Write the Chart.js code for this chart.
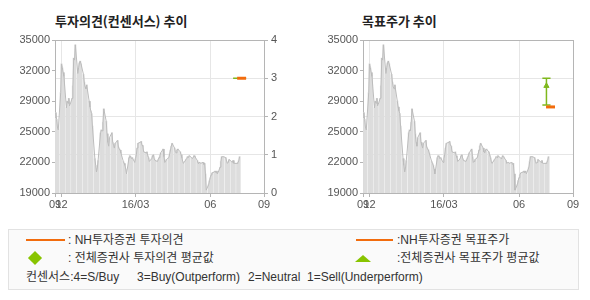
<!DOCTYPE html>
<html><head><meta charset="utf-8">
<script src="https://cdn.jsdelivr.net/npm/chart.js@4/dist/chart.umd.min.js"></script>
<style>
html,body{margin:0;padding:0;background:#fff;}
body{width:590px;height:300px;position:relative;overflow:hidden;font-family:"Liberation Sans","Noto Sans CJK KR",sans-serif;color:#333;}
.title{position:absolute;top:12px;font-family:"Noto Sans CJK KR";font-weight:bold;font-size:13px;line-height:18px;color:#222;white-space:nowrap;}
.cv{position:absolute;top:0;}
.box{position:absolute;left:8px;top:229px;width:569px;height:59px;border:1px solid #e2e2e2;background:#fafafa;}
.t{position:absolute;font-size:12px;line-height:16px;white-space:nowrap;color:#333;}
.oline{position:absolute;height:2px;background:#f26c0d;}
.dia{position:absolute;width:10px;height:10px;background:#88c400;transform:rotate(45deg);}
.tri{position:absolute;width:0;height:0;border-left:8px solid transparent;border-right:8px solid transparent;border-bottom:7px solid #88c400;}
</style></head>
<body>
<div class="title" style="left:55px;">투자의견(컨센서스) 추이</div>
<div class="title" style="left:362px;">목표주가 추이</div>
<canvas id="c1" class="cv" style="left:0px" width="295" height="215"></canvas>
<canvas id="c2" class="cv" style="left:295px" width="295" height="215"></canvas>
<div class="box"></div>
<div class="oline" style="left:26px;top:239px;width:39px;"></div>
<div class="t" style="left:68px;top:232px;">:&nbsp;NH투자증권 투자의견</div>
<div class="dia" style="left:30px;top:253px;"></div>
<div class="t" style="left:68px;top:250px;">:&nbsp;전체증권사 투자의견 평균값</div>
<div class="t" style="left:26px;top:269px;">컨센서스:4=S/Buy</div>
<div class="t" style="left:137px;top:269px;">3=Buy(Outperform)</div>
<div class="t" style="left:248px;top:269px;">2=Neutral</div>
<div class="t" style="left:307px;top:269px;">1=Sell(Underperform)</div>
<div class="oline" style="left:356px;top:239px;width:37px;"></div>
<div class="t" style="left:397px;top:232px;">:NH투자증권 목표주가</div>
<div class="tri" style="left:355px;top:255px;"></div>
<div class="t" style="left:397px;top:250px;">:전체증권사 목표주가 평균값</div>
<script>
// ---- data ----
// daily closing prices (trading days Mon-Fri starting from 2015-11-23)
const priceValues = [
 26900,27400,26700,25900,25600,
 29500,32500,32100,31600,31200,
 27900,28600,28400,28900,28100,
 28900,30200,33100,32900,34500,
 31500,32100,32600,32800,32500,
 31400,30600,30100,29900,30300,
 28600,28000,27600,27300,26000,
 22600,21900,21200,21600,22400,
 25300,25600,25500,26400,27800,
 26500,25200,24300,23900,24800,
 25300,24300,24000,23700,24200,
 24500,23800,23600,23500,23200,
 22300,22100,21900,21500,21000,
 22700,22900,22800,22600,22700,
 22200,22600,23000,23700,24200,
 24300,24400,24000,23900,23300,
 23200,23300,22900,22700,22300,
 22600,22900,23000,22600,22400,
 22300,22500,22700,22900,23200,
 23600,22800,22200,22300,22500,
 22700,23100,23500,23900,24200,
 23700,23300,23200,23500,23600,
 23300,23000,22700,22300,22100,
 22500,22600,22800,22700,22900,
 22700,22600,22700,22900,22800,
 22400,22100,22200,22200,22100,
 22200,22000,22100,21000,19300,
 19900,20300,20600,20900,21100,
 21200,21300,21100,21300,21000,
 21700,22300,22800,22800,22800,
 22700,22300,22100,22200,22500,
 22300,22200,22400,22100,22100,
 22100,22200,22400,22800
];
// day offsets (calendar days from 2015-11-23) for the trading days
const priceDays = priceValues.map((_, i) => Math.floor(i / 5) * 7 + (i % 5));

const xMinDay = 0, xMaxDay = 257;
const xTickDays = [0, 8, 99, 191, 257];
const xTickLabels = ['09', '12', '16/03', '06', '09'];
const yPriceTicks = [19000, 22200, 25400, 28600, 31800, 35000];
const yPriceLabels = ['19000', '22000', '25000', '29000', '32000', '35000'];
const yOpinionTicks = [0, 1, 2, 3, 4];
const yOpinionLabels = ['0', '1', '2', '3', '4'];

const opinionNHDays = [224, 235];
const opinionNHValues = [3, 3];
const opinionAvgDays = [219, 235];
const opinionAvgValues = [3, 3];

const targetNHDays = [224, 235];
const targetNHValues = [28000, 28000];
const targetAvgDay = [224.5];
const targetAvgValue = [30200];
const targetHighValue = [31000];
const targetLowValue = [28200];
const targetCapDays = [219.5, 229.5];

// ---- styles ----
const ORANGE = '#f26c0d', GREEN = '#7fb81c';
const AXIS = '#b5b5b5', GRID = '#e6e6e6', TXT = '#555';
const tickFont = {family: 'Liberation Sans', size: 11};

const pts = (xs, ys) => xs.map((x, i) => ({x: x, y: ys[i]}));

function baseDatasets() {
  return [
    {type: 'bar', data: pts(priceDays, priceValues), backgroundColor: '#dddddd', borderWidth: 0,
     barThickness: 1.4, yAxisID: 'y', order: 5},
    {type: 'line', data: pts(priceDays, priceValues), borderColor: '#bcbcbc', borderWidth: 1,
     pointRadius: 0, tension: 0, yAxisID: 'y', order: 4}
  ];
}

function scales(yWidth, y2Width, showY2Labels) {
  return {
    x: {type: 'linear', min: xMinDay, max: xMaxDay, offset: false,
      afterBuildTicks: s => { s.ticks = xTickDays.map(v => ({value: v})); },
      afterFit: s => { s.height = 22; },
      ticks: {autoSkip: false, maxRotation: 0, font: tickFont, color: TXT, padding: 1,
        callback: (v, i) => xTickLabels[i]},
      grid: {color: GRID, tickColor: AXIS, tickLength: 4, offset: false},
      border: {color: AXIS}},
    y: {type: 'linear', position: 'left', min: 19000, max: 35000,
      afterBuildTicks: s => { s.ticks = yPriceTicks.map(v => ({value: v})); },
      afterFit: s => { s.width = yWidth; },
      ticks: {font: tickFont, color: TXT, padding: 2,
        callback: (v, i) => yPriceLabels[i]},
      grid: {drawOnChartArea: false, tickColor: AXIS, tickLength: 3},
      border: {color: AXIS}},
    y2: {type: 'linear', position: 'right', min: 0, max: 4,
      afterBuildTicks: s => { s.ticks = yOpinionTicks.map(v => ({value: v})); },
      afterFit: s => { s.width = y2Width; },
      ticks: {display: showY2Labels, font: tickFont, color: TXT, padding: 3,
        callback: (v, i) => yOpinionLabels[i]},
      grid: {color: c => (c.tick && c.tick.value === 4) ? AXIS : GRID,
        tickColor: AXIS, tickLength: showY2Labels ? 4 : 0},
      border: {color: AXIS}}
  };
}

const commonOpts = {
  responsive: false, animation: false,
  layout: {padding: {top: 40, left: 0, right: 0, bottom: 0}},
  plugins: {legend: {display: false}, tooltip: {enabled: false}},
};

new Chart(document.getElementById('c1'), {
  data: {datasets: baseDatasets().concat([
    {type: 'line', data: pts(opinionAvgDays, opinionAvgValues), borderColor: GREEN, borderWidth: 1.5,
     pointRadius: 0, yAxisID: 'y2', order: 2},
    {type: 'line', data: pts(opinionNHDays, opinionNHValues), borderColor: ORANGE, borderWidth: 3,
     pointRadius: 0, yAxisID: 'y2', order: 1}
  ])},
  options: Object.assign({}, commonOpts, {scales: scales(55, 31, true)})
});

new Chart(document.getElementById('c2'), {
  data: {datasets: baseDatasets().concat([
    {type: 'line', data: pts([targetAvgDay[0], targetAvgDay[0]], [targetHighValue[0], targetLowValue[0]]),
     borderColor: GREEN, borderWidth: 1.5, pointRadius: 0, yAxisID: 'y', order: 3},
    {type: 'line', data: pts(targetCapDays, [targetHighValue[0], targetHighValue[0]]),
     borderColor: GREEN, borderWidth: 1.5, pointRadius: 0, yAxisID: 'y', order: 3},
    {type: 'line', data: pts(targetCapDays, [targetLowValue[0], targetLowValue[0]]),
     borderColor: GREEN, borderWidth: 1.5, pointRadius: 0, yAxisID: 'y', order: 3},
    {type: 'line', data: pts(targetAvgDay, targetAvgValue), showLine: false, pointStyle: 'triangle',
     pointRadius: 3, backgroundColor: GREEN, borderColor: GREEN, borderWidth: 1, yAxisID: 'y', order: 2},
    {type: 'line', data: pts(targetNHDays, targetNHValues), borderColor: ORANGE, borderWidth: 3,
     pointRadius: 0, yAxisID: 'y', order: 1}
  ])},
  options: Object.assign({}, commonOpts, {scales: scales(68, 17, false)})
});
</script>
</body></html>
